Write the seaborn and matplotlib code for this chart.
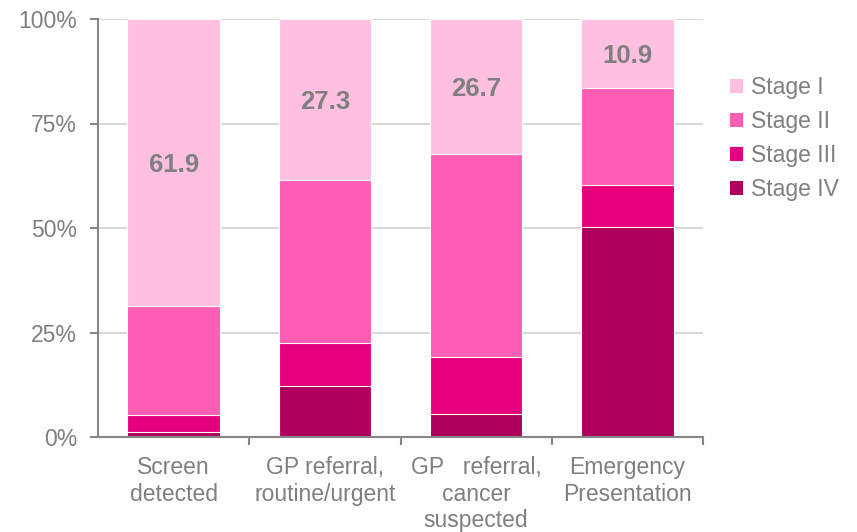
import numpy as np
import pandas as pd
import matplotlib
matplotlib.use("Agg")
import matplotlib.pyplot as plt
from matplotlib.patches import Patch
import seaborn as sns

# data (percent of patients by stage)
routes = ["Screen\ndetected", "GP referral,\nroutine/urgent",
          "GP   referral,\ncancer\nsuspected", "Emergency\nPresentation"]
stages = ["Stage I", "Stage II", "Stage III", "Stage IV"]
stage_1 = [68.6, 38.5, 32.3, 16.5]
stage_2 = [26.1, 38.9, 48.5, 23.1]
stage_3 = [4.0, 10.3, 13.8, 10.1]
stage_4 = [1.3, 12.3, 5.4, 50.3]
stage_1_labels = ["61.9", "27.3", "26.7", "10.9"]

colors = ["#FFBFE0", "#FF5EB4", "#E6007E", "#AF005F"]
grey = "#7F7F7F"

sns.set_style("white")
plt.rcParams["font.family"] = ["Liberation Sans", "DejaVu Sans"]

df = pd.DataFrame({"route": routes, "Stage I": stage_1, "Stage II": stage_2,
                   "Stage III": stage_3, "Stage IV": stage_4})
# cumulative from the bottom (Stage IV) up
df["c4"] = df["Stage IV"]
df["c3"] = df["c4"] + df["Stage III"]
df["c2"] = df["c3"] + df["Stage II"]
df["c1"] = df["c2"] + df["Stage I"]

fig = plt.figure(figsize=(8.57, 5.32), dpi=100)
ax = fig.add_axes([98 / 857, 1 - 437 / 532, 605 / 857, 418 / 532])

for col, c in zip(["c1", "c2", "c3", "c4"], colors):
    sns.barplot(data=df, x="route", y=col, color=c, width=0.61,
                edgecolor="white", linewidth=0.8, saturation=1, ax=ax, zorder=3)

# labels in Stage I segment
for i, lab in enumerate(stage_1_labels):
    mid = (df["c2"][i] + df["c1"][i]) / 2
    ax.text(i, mid, lab, ha="center", va="center_baseline", fontsize=18.5,
            fontweight="bold", color=grey, zorder=4)

ax.set_xlim(-0.5, 3.5)
ax.set_ylim(0, 100)
ax.set_yticks([0, 25, 50, 75, 100])
ax.set_yticklabels(["0%", "25%", "50%", "75%", "100%"])
ax.set_xlabel("")
ax.set_ylabel("")
ax.grid(axis="y", color="#D9D9D9", linewidth=1.5, zorder=0)
ax.set_axisbelow(True)

for s in ["top", "right"]:
    ax.spines[s].set_visible(False)
for s in ["left", "bottom"]:
    ax.spines[s].set_color("#868686")
    ax.spines[s].set_linewidth(1.5)
    ax.spines[s].set_zorder(5)

ax.tick_params(axis="y", which="major", left=True, length=6, width=1.5,
               color="#868686", labelsize=16.5, labelcolor=grey, pad=9)
ax.tick_params(axis="x", which="major", bottom=True, length=0,
               labelsize=16.5, labelcolor=grey, pad=14)
ax.set_xticks([0.5, 1.5, 2.5, 3.5], minor=True)
ax.tick_params(axis="x", which="minor", bottom=True, length=6, width=1.5,
               color="#868686")
for t in ax.get_xticklabels():
    t.set_linespacing(1.17)

handles = [Patch(facecolor=c, edgecolor="none") for c in colors]
ax.legend(handles, stages, loc="center left", bbox_to_anchor=(1.045, 0.714),
          frameon=False, fontsize=16.5, labelcolor=grey, handlelength=0.55,
          handleheight=0.55, handletextpad=0.35, labelspacing=0.48,
          borderpad=0, borderaxespad=0)

fig.savefig("out.png", dpi=100)
